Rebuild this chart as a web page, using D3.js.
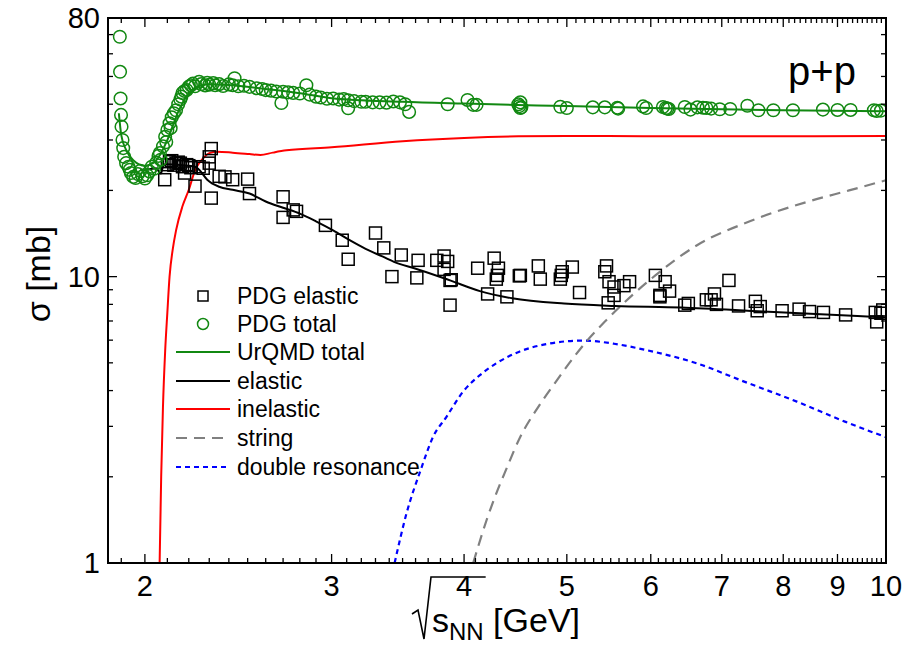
<!DOCTYPE html>
<html><head><meta charset="utf-8">
<script src="https://cdn.jsdelivr.net/npm/d3@7"></script>
<style>
body{margin:0;background:#fff;}
svg{font-family:"Liberation Sans",Arial,sans-serif;}
</style></head><body>
<svg id="chart" width="905" height="647"></svg>
<script>
// ---------- data ----------
const pdgTotal = [
[1.894,68.8],[1.895,51.9],[1.897,41.9],[1.899,36.7],[1.901,33.4],[1.905,30.0],[1.908,28.1],[1.912,26.2],[1.92,24.9],[1.93,24.2],[1.935,23.6],[1.94,23.0],[1.95,22.3],[1.96,22.1],[1.97,22.8],[1.98,23.4],[1.99,22.4],[2.0,22.0],[2.01,22.6],[2.02,23.3],[2.03,24.2],[2.04,23.8],[2.05,25.0],[2.06,26.4],[2.066,27.0],[2.07,25.6],[2.08,28.5],[2.09,30.8],[2.095,29.5],[2.1,32.5],[2.11,34.3],[2.115,33.0],[2.12,36.0],[2.13,37.2],[2.14,38.1],[2.15,40.0],[2.16,41.5],[2.165,42.5],[2.17,43.8],[2.18,44.5],[2.19,44.8],[2.2,46.0],[2.21,46.6],[2.22,47.2],[2.23,46.2],[2.25,47.9],[2.26,47.0],[2.28,46.5],[2.29,47.5],[2.3,46.8],[2.32,47.4],[2.33,46.6],[2.35,47.0],[2.37,46.3],[2.4,46.9],[2.42,46.6],[2.43,49.3],[2.45,46.2],[2.48,46.4],[2.51,46.0],[2.55,45.5],[2.58,45.2],[2.6,44.8],[2.63,44.6],[2.66,44.3],[2.69,40.4],[2.7,44.2],[2.73,44.0],[2.76,43.8],[2.8,43.6],[2.84,46.6],[2.86,43.2],[2.9,42.5],[2.93,42.2],[2.97,41.8],[3.01,41.9],[3.05,41.5],[3.08,41.7],[3.11,41.3],[3.11,38.7],[3.15,41.0],[3.2,40.8],[3.23,40.8],[3.28,40.6],[3.33,40.6],[3.38,40.5],[3.43,40.9],[3.48,40.6],[3.52,40.0],[3.55,37.6],
[3.86,40.0],[4.03,41.4],[4.08,39.8],[4.11,39.8],[4.5,40.0],[4.51,39.4],[4.52,40.6],[4.53,39.0],[4.52,38.8],[4.93,39.2],[5.0,38.8],[5.29,39.0],[5.43,39.0],[5.58,38.9],[5.59,38.6],[5.90,39.3],[5.94,38.8],[6.16,39.1],[6.2,38.8],[6.22,38.6],[6.24,38.5],[6.46,39.1],[6.54,38.3],[6.64,39.0],[6.72,38.9],[6.77,38.8],[6.84,38.6],[6.97,38.4],[7.13,38.5],[7.40,39.5],[7.58,38.1],[7.83,38.1],[8.17,38.1],[8.72,38.3],[9.00,38.2],[9.26,38.2],[9.74,38.1],[9.80,37.9],[9.89,38.0]
];
const pdgElastic = [
[2.088,21.8],[2.10,24.6],[2.11,25.2],[2.12,25.4],[2.13,24.5],[2.14,24.9],[2.15,25.1],[2.16,24.9],[2.17,24.2],[2.18,23.0],[2.19,24.6],[2.20,24.4],[2.21,24.0],[2.23,20.7],[2.25,24.2],[2.27,23.9],[2.30,26.2],[2.30,24.9],[2.31,28.0],[2.31,18.8],[2.35,22.4],[2.38,22.3],[2.42,21.8],[2.50,21.9],[2.51,19.5],[2.70,19.0],[2.70,16.1],[2.76,17.1],[2.78,16.9],[2.96,15.1],[3.07,13.4],[3.11,11.5],[3.30,14.2],[3.36,12.6],[3.42,10.0],[3.49,11.9],[3.61,9.9],[3.62,11.4],[3.77,11.4],[3.83,11.8],[3.83,10.6],[3.86,11.3],[3.88,9.7],[3.89,9.75],[3.88,7.95],[4.12,10.7],[4.21,8.7],[4.27,11.6],[4.29,9.8],[4.31,10.7],[4.30,10.1],[4.39,8.5],[4.51,10.06],[4.52,10.1],[4.70,10.9],[4.72,9.8],[4.93,9.8],[4.95,10.4],[4.94,10.1],[5.06,10.8],[5.14,8.8],[5.43,10.4],[5.45,10.9],[5.48,9.6],[5.54,9.2],[5.54,8.6],[5.47,8.1],[5.66,9.3],[5.73,9.6],[6.06,10.1],[6.12,8.5],[6.12,8.6],[6.19,9.6],[6.25,8.9],[6.46,7.95],[6.51,8.06],[6.77,8.3],[6.84,8.3],[6.89,8.7],[6.92,8.0],[7.11,9.7],[7.26,7.9],[7.53,8.2],[7.56,7.6],[7.61,7.86],[7.98,7.6],[8.28,7.7],[8.47,7.55],[8.73,7.5],[9.16,7.35],[9.77,7.5],[9.8,6.95],[9.89,7.45],[9.93,7.65]
];
const urqmdTotal = [
[1.89,37.2],[1.9,31.2],[1.92,27.7],[1.95,25.5],[2.0,24.4],[2.05,25.5],[2.1,30.0],[2.15,37.6],[2.2,43.7],[2.25,46.3],[2.3,47.0],[2.4,46.7],[2.6,45.2],[2.8,43.7],[3.0,42.0],[3.5,40.8],[4.0,40.2],[5.0,39.4],[6.0,38.8],[7.0,38.4],[8.0,38.1],[10.0,37.8]
];
const urqmdElastic = [
[1.98,23.6],[2.02,23.7],[2.05,23.9],[2.07,22.9],[2.08,24.2],[2.09,24.7],[2.17,24.5],[2.23,24.2],[2.25,23.6],[2.29,21.8],[2.35,20.6],[2.42,20.1],[2.51,19.5],[2.60,18.3],[2.70,17.4],[2.80,16.6],[2.90,15.6],[3.01,14.5],[3.12,13.4],[3.23,12.5],[3.35,11.76],[3.47,11.1],[3.59,10.7],[3.88,9.7],[4.14,8.9],[4.44,8.4],[4.97,8.05],[5.55,7.9],[6.41,7.8],[7.66,7.55],[10.0,7.2]
];
const urqmdInelastic = [
[2.065,1.0],[2.072,2.0],[2.08,3.5],[2.09,5.5],[2.1,7.5],[2.11,10.0],[2.125,12.5],[2.14,14.5],[2.17,17.6],[2.2,20.1],[2.23,23.5],[2.27,25.9],[2.3,27.0],[2.34,27.3],[2.42,27.1],[2.51,26.8],[2.57,26.6],[2.64,27.1],[2.72,27.6],[3.0,28.3],[3.5,29.7],[4.0,30.5],[4.5,30.9],[5.0,31.0],[6.0,30.9],[8.0,30.9],[10.0,31.0]
];
const stringXS = [
[4.08,1.0],[4.20,1.41],[4.29,1.75],[4.38,2.11],[4.52,2.76],[4.70,3.51],[4.87,4.24],[5.08,5.25],[5.23,6.0],[5.45,7.06],[6.06,10.1],[6.64,12.9],[7.44,15.6],[8.45,18.3],[9.23,20.0],[10.0,21.7]
];
const doubleRes = [
[3.44,1.0],[3.53,1.49],[3.64,2.11],[3.74,2.76],[3.85,3.24],[3.99,3.96],[4.14,4.53],[4.29,4.98],[4.51,5.47],[4.78,5.81],[5.18,5.98],[5.54,5.83],[5.94,5.54],[6.63,4.98],[7.36,4.29],[8.24,3.66],[9.16,3.11],[10.0,2.75]
];
const xTickLabels = [2,3,4,5,6,7,8,9,10];
const yTickLabels = [1,10,80];
const legendLabels = ["PDG elastic","PDG total","UrQMD total","elastic","inelastic","string","double resonance"];

// ---------- layout ----------
const svg = d3.select("#chart");
const L=108, R=886, T=18, B=563;
const x = d3.scaleLog().domain([1.846,10]).range([L,R]);
const y = d3.scaleLog().domain([1,80]).range([B,T]);

svg.append("clipPath").attr("id","clip").append("rect")
  .attr("x",L).attr("y",T).attr("width",R-L).attr("height",B-T);

const line = d3.line().x(d=>x(d[0])).y(d=>y(d[1])).curve(d3.curveMonotoneX);
const g = svg.append("g").attr("clip-path","url(#clip)");

function curve(data,color,dash,w){
  g.append("path").datum(data).attr("d",line).attr("fill","none")
   .attr("stroke",color).attr("stroke-width",w||2)
   .attr("stroke-dasharray",dash||null);
}
curve(doubleRes,"#0000ff","5,4",2.2);
curve(stringXS,"#808080","11,7",2.2);
curve(urqmdInelastic,"#ff0000",null,2);
curve(urqmdElastic,"#000000",null,2);

// symbols
g.selectAll("rect.el").data(pdgElastic).enter().append("rect")
  .attr("x",d=>x(d[0])-6).attr("y",d=>y(d[1])-6).attr("width",12).attr("height",12)
  .attr("fill","none").attr("stroke","#000").attr("stroke-width",1.5);
g.selectAll("circle.tot").data(pdgTotal).enter().append("circle")
  .attr("cx",d=>x(d[0])).attr("cy",d=>y(d[1])).attr("r",6.3)
  .attr("fill","none").attr("stroke","#118811").attr("stroke-width",1.5);
curve(urqmdTotal,"#118811",null,2);

// ---------- axes ----------
const xMinor = [];
for(let v=1.9; v<10.001; v+=0.1){ xMinor.push(+v.toFixed(1)); }
const yMinor = [2,3,4,5,6,7,8,9,20,30,40,50,60,70];
const ax = svg.append("g").attr("stroke","#000");
function xt(v){
  const isMajor = Number.isInteger(v);
  const l = isMajor?9:5;
  ax.append("line").attr("x1",x(v)).attr("x2",x(v)).attr("y1",B).attr("y2",B-l).attr("stroke-width",1.3);
  ax.append("line").attr("x1",x(v)).attr("x2",x(v)).attr("y1",T).attr("y2",T+l).attr("stroke-width",1.3);
}
xMinor.forEach(v=>xt(v));
function yt(v,major){
  const l = major?9:5;
  ax.append("line").attr("x1",L).attr("x2",L+l).attr("y1",y(v)).attr("y2",y(v)).attr("stroke-width",1.3);
  ax.append("line").attr("x1",R).attr("x2",R-l).attr("y1",y(v)).attr("y2",y(v)).attr("stroke-width",1.3);
}
yMinor.forEach(v=>yt(v,false));
[1,10].forEach(v=>yt(v,true));
svg.append("rect").attr("x",L).attr("y",T).attr("width",R-L).attr("height",B-T)
  .attr("fill","none").attr("stroke","#000").attr("stroke-width",2);

svg.selectAll("text.xl").data(xTickLabels).enter().append("text")
  .attr("x",d=>x(d)).attr("y",596).attr("text-anchor","middle")
  .attr("font-size",29).text(d=>d);
svg.selectAll("text.yl").data(yTickLabels).enter().append("text")
  .attr("x",100).attr("y",d=>y(d)+10).attr("text-anchor","end")
  .attr("font-size",29).text(d=>d);

// axis titles
svg.append("text").attr("transform","translate(50,274) rotate(-90)")
  .attr("text-anchor","middle").attr("font-size",34).text("σ [mb]");
const xt1 = svg.append("text").attr("x",432).attr("y",632).attr("font-size",34);
const tsS = xt1.append("tspan").text("s");
const tsN = xt1.append("tspan").attr("font-size",24).attr("dy",8).text("NN");
xt1.append("tspan").attr("dy",-8).text(" [GeV]");
const ex = 432 + tsS.node().getComputedTextLength() + tsN.node().getComputedTextLength();
svg.append("path")
  .attr("d",`M412,614 L418,610 L424,639 L431,577 L${ex+2},577`)
  .attr("fill","none").attr("stroke","#000").attr("stroke-width",1.6);

svg.append("text").attr("x",822).attr("y",85).attr("text-anchor","middle")
  .attr("font-size",40).text("p+p");

// ---------- legend ----------
const lg = svg.append("g");
const rowY = [296,324,352,381,409,438,467];
const kinds = [
 {t:"sq"},{t:"ci"},{t:"ln",c:"#118811"},{t:"ln",c:"#000"},{t:"ln",c:"#ff0000"},
 {t:"ln",c:"#808080",d:"11,7"},{t:"ln",c:"#0000ff",d:"5,4"}];
legendLabels.forEach((lab,i)=>{
  const k=kinds[i], yy=rowY[i];
  if(k.t==="sq") lg.append("rect").attr("x",198).attr("y",yy-5).attr("width",10).attr("height",10)
     .attr("fill","none").attr("stroke","#000").attr("stroke-width",1.5);
  else if(k.t==="ci") lg.append("circle").attr("cx",203).attr("cy",yy).attr("r",5.5)
     .attr("fill","none").attr("stroke","#118811").attr("stroke-width",1.5);
  else lg.append("line").attr("x1",176).attr("x2",230).attr("y1",yy).attr("y2",yy)
     .attr("stroke",k.c).attr("stroke-width",2.2).attr("stroke-dasharray",k.d||null);
  lg.append("text").attr("x",237).attr("y",yy+8).attr("font-size",23).text(lab);
});
</script>
</body></html>
